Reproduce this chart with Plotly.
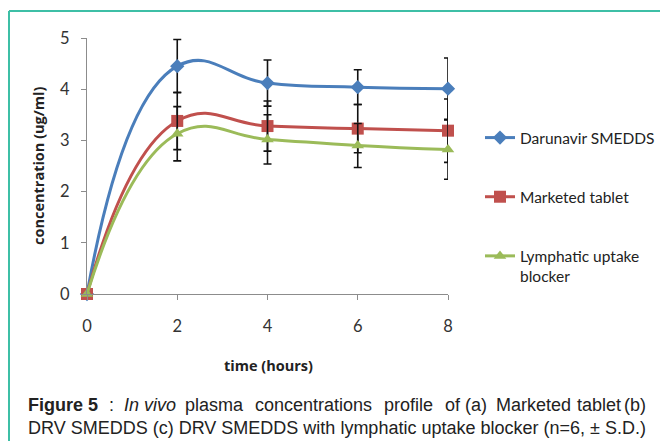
import plotly.graph_objects as go

# Plasma concentration vs time (n=6, mean ± S.D.)
time_h = [0, 2, 4, 6, 8]

smedds = [0, 4.45, 4.12, 4.04, 4.01]
smedds_sd = [0, 0.52, 0.45, 0.34, 0.60]

tablet = [0, 3.38, 3.28, 3.23, 3.19]
tablet_sd = [0, 0.56, 0.49, 0.47, 0.62]

blocker = [0, 3.13, 3.02, 2.90, 2.82]
blocker_sd = [0, 0.53, 0.48, 0.43, 0.58]

series_names = ["Darunavir SMEDDS", "Marketed tablet", "Lymphatic uptake<br>blocker"]
x_ticks = [0, 2, 4, 6, 8]
y_ticks = [0, 1, 2, 3, 4, 5]

W, H = 660, 441
L, R, T, B = 87, 212, 38, 147
PW, PH = W - L - R, H - T - B


def px_x(px):
    return (px - L) / PW


def px_y(py):
    return (H - B - py) / PH


AX_FONT = "Lato, 'Open Sans', sans-serif"
TITLE_FONT = "'Open Sans', Lato, sans-serif"
CAP_FONT = "'Liberation Sans', Arial, sans-serif"

fig = go.Figure()

styles = [
    (smedds, smedds_sd, "#4A7EBB", "diamond", 11, "a"),
    (tablet, tablet_sd, "#C0504D", "square", 12, "b"),
    (blocker, blocker_sd, "#9BBB59", "triangle-up", 11, "c"),
]
for name, (vals, sd, col, sym, size, grp) in zip(series_names, styles):
    fig.add_trace(go.Scatter(
        x=time_h, y=vals, name=name, legendgroup=grp,
        mode="lines+markers",
        line=dict(color=col, width=3, shape="spline", smoothing=1.3),
        marker=dict(symbol=sym, size=size, color=col,
                    line=dict(width=0)),
        error_y=dict(type="data", array=sd, visible=True,
                     color="#111111", thickness=1.6, width=4),
        cliponaxis=False,
    ))

fig.update_layout(
    width=W, height=H,
    margin=dict(l=L, r=R, t=T, b=B, pad=0),
    paper_bgcolor="white", plot_bgcolor="white",
    showlegend=True,
    legend=dict(
        xref="container", yref="container",
        x=480 / W, y=1 - 121 / H, xanchor="left", yanchor="top",
        font=dict(family=AX_FONT, size=15.5, color="#222222"),
        tracegroupgap=36, valign="top",
        bgcolor="rgba(0,0,0,0)",
    ),
    xaxis=dict(
        range=[0, 8], tickvals=x_ticks, showgrid=False, zeroline=False,
        showline=True, linecolor="#8c8c8c", linewidth=1,
        ticks="outside", ticklen=5, tickcolor="#8c8c8c",
        ticklabelstandoff=12,
        tickfont=dict(family=AX_FONT, size=16.5, color="#333333"),
    ),
    yaxis=dict(
        range=[0, 5], tickvals=y_ticks, showgrid=False, zeroline=False,
        showline=True, linecolor="#8c8c8c", linewidth=1,
        ticks="outside", ticklen=5, tickcolor="#8c8c8c",
        ticklabelstandoff=8,
        tickfont=dict(family=AX_FONT, size=16.5, color="#333333"),
    ),
)

# axis titles
fig.add_annotation(text="<b>time (hours)</b>", xref="paper", yref="paper",
                   x=px_x(268), y=px_y(365), showarrow=False,
                   xanchor="center", yanchor="middle",
                   font=dict(family=TITLE_FONT, size=14.5, color="#222222"))
fig.add_annotation(text="<b>concentration (ug/ml)</b>", xref="paper", yref="paper",
                   x=px_x(38), y=px_y(166), showarrow=False, textangle=-90,
                   xanchor="center", yanchor="middle",
                   font=dict(family=TITLE_FONT, size=14.5, color="#222222"))

# frame around the figure panel
frame_col = "#3DBFA6"
fig.add_shape(type="line", xref="paper", yref="paper",
              x0=px_x(9), x1=px_x(W + 5), y0=px_y(11), y1=px_y(11),
              line=dict(color=frame_col, width=2))
fig.add_shape(type="line", xref="paper", yref="paper",
              x0=px_x(9), x1=px_x(9), y0=px_y(11), y1=px_y(H + 5),
              line=dict(color=frame_col, width=2))

# caption, first line set word by word to keep it justified
line1 = [
    ("<b>Figure 5</b>", 26), (":", 107), ("<i>In vivo</i>", 122),
    ("plasma", 183), ("concentrations", 253), ("profile", 382),
    ("of", 443), ("(a)", 463), ("Marketed", 494), ("tablet", 575), ("(b)", 622),
]
for txt, xpos in line1:
    fig.add_annotation(text=txt, xref="paper", yref="paper",
                       x=px_x(xpos), y=px_y(405), showarrow=False,
                       xanchor="left", yanchor="middle",
                       font=dict(family=CAP_FONT, size=18, color="#222222"))
fig.add_annotation(text="DRV SMEDDS (c) DRV SMEDDS with lymphatic uptake blocker (n=6, \u00b1 S.D.)",
                   xref="paper", yref="paper",
                   x=px_x(26), y=px_y(428), showarrow=False,
                   xanchor="left", yanchor="middle",
                   font=dict(family=CAP_FONT, size=18, color="#222222"))

fig.write_html("out.html")
